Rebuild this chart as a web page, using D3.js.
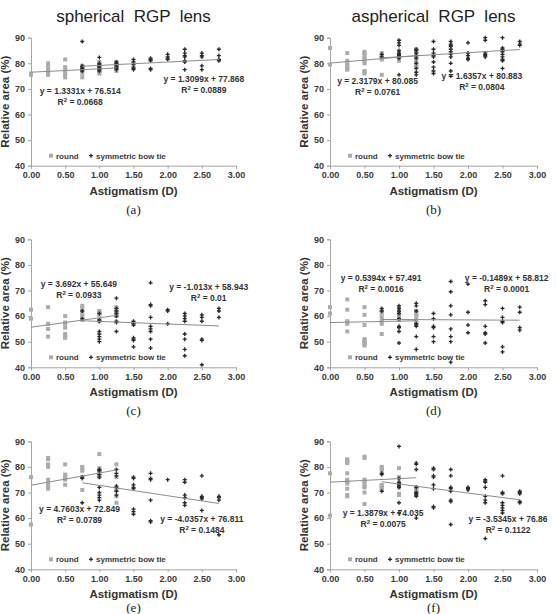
<!DOCTYPE html>
<html>
<head>
<meta charset="utf-8">
<title>Relative area vs astigmatism</title>
<script src="https://d3js.org/d3.v7.min.js"></script>
<style>
  body { margin: 0; background: #fff; }
</style>
</head>
<body>
<script>
// astigmatism levels for each group
const roundX = [0, 0.25, 0.5, 0.75, 1.0, 1.25];
const bowX = [0.75, 1.0, 1.25, 1.5, 1.75, 2.0, 2.25, 2.5, 2.75];

// relative area (%), one list per x level
const roundA = [[75.5, 76], [80, 79, 78, 77, 76, 75.5], [81.5, 78.5, 77.5, 76.5, 75.5, 74.5], [79, 78, 77, 76, 74.5], [80.5, 79.5, 78.5, 78, 77, 76.5, 76], [80.5, 79.5, 79, 78.5, 78, 77]];
const bowA = [[88.5, 79, 78.5, 78, 77.5, 77], [82.3, 80, 79.5, 79, 78.5, 78, 77.5, 77], [80.5, 80, 79, 78.5, 78, 77.5], [81.5, 80.5, 79.5, 78.5, 78, 77.5], [82, 81.5, 81, 78, 77.5], [83.5, 82.5, 82, 81.5], [85.5, 84, 83, 82.5, 81, 80.5, 77.5], [84, 83, 82.5, 79, 77.5], [85.5, 83, 81.5, 81]];

const roundB = [[86, 79.5], [84, 81, 80, 79, 78.5, 78, 77.5], [84.5, 84, 83, 82, 81.5, 81, 80, 77, 76.5, 76], [84, 83, 82.5, 82, 81.5, 75.5], [84, 83, 82, 81], [85.5, 85, 84, 83, 82, 81, 80, 79, 78.5]];
const bowB = [[83.5, 82.5], [89, 88, 87, 85, 84, 83.5, 83, 82.5, 82, 75.5], [85.5, 85, 84, 83, 82, 80, 78, 76.5, 75.5], [88.5, 85.5, 84, 83, 82.5, 80.5, 78.5, 77, 76], [88.5, 87.5, 87, 86.5, 85.5, 84.5, 83.5, 82.5, 80, 77, 75], [88, 84, 83, 82, 81.5], [90, 89, 84, 83.5, 83, 82.5], [90, 86, 85.5, 84.5, 83.5, 82.5, 81.5, 81, 78], [88.5, 87.5, 87]];

const roundC = [[62.5, 59], [63.5, 57, 55, 52], [60, 57.5, 57, 55.5, 53, 52, 51.5], [64, 63, 62, 61, 60, 59, 58.5], [62, 61.5, 61, 60.5, 58.5, 58], [63.5, 62.5, 61.5, 61, 60]];
const bowC = [[62, 59], [61, 58.5, 58, 54, 53, 52, 51, 50], [67, 63, 62, 61, 60, 58, 57.5, 54], [58, 57, 56.5, 51.5, 51, 50.5, 48], [73, 64.5, 64, 59.5, 56, 55, 54, 51, 47.5], [62.5, 62, 57], [61, 60, 59, 58, 53, 51, 47, 44.5], [60.5, 59.5, 58, 51, 50.5, 41], [63, 62, 59.5]];

const roundD = [[63.5, 61], [66.5, 62.5, 58, 57.5, 57, 54], [63.5, 60.5, 56.5, 51, 50.5, 50, 49.5, 49, 48.5], [62, 61, 59.5, 58, 57, 53], [63.5, 62.5, 61.5, 60.5, 60, 59, 58.5], [62, 61.5, 61, 60.5, 59, 58, 57.5]];
const bowD = [[63, 62], [64, 63, 62, 61, 59, 56, 55.5, 54, 49.5], [65, 64, 62, 57, 56.5, 56, 52, 47], [61, 59, 56, 55.5, 52, 50], [73.5, 69.5, 64, 60.5, 55, 52, 50, 42], [72.5, 61.5, 56.5, 53.5], [66, 64.5, 56, 53.5, 53, 49.5], [63, 59.5, 58, 57.5, 48, 46], [63.5, 61.5, 55.5, 54.5]];

const roundE = [[76, 57.5], [83.5, 83, 81, 80.5, 80, 75, 73.5, 72.5, 72, 71.5], [81, 77, 76, 75.5, 75, 73], [80, 79.5, 78.5, 76, 71], [85, 79.5, 78.5, 78, 77.5, 76], [81, 76, 71, 68.5, 66]];
const bowE = [[76, 75.5, 66], [79, 78.5, 77, 76, 72, 70, 69, 68, 67], [79, 77.5, 76.5, 72.5, 72, 70.5, 69], [76, 75.5, 73, 72, 71.5, 63.5, 62.5, 61.5], [77.5, 75.5, 75, 67, 59, 58.5], [75], [75, 74, 69, 68, 66, 65], [76.5, 68.5, 68, 67.5, 63], [68.5, 68, 67, 53.5]];

const roundF = [[77.5, 61], [83, 82.5, 82, 81.5, 77.5, 75, 74.5, 74, 73.5, 71.5, 69, 68.5], [84, 83.5, 75, 74.5, 73.5, 72.5, 72, 70, 65.5], [80, 79.5, 78.5, 73, 72.5, 72, 71.5], [79.5, 76, 75.5, 73, 72, 69.5, 69], [72, 71.5, 71, 70.5, 69.5]];
const bowF = [[77.5, 77, 70.5], [88, 75.5, 74, 73.5, 73, 72.5, 72, 66, 62], [81.5, 81, 79, 72, 70, 69.5, 69, 68.5, 60], [79.5, 79, 76.5, 76, 73, 71.5, 64.5, 64], [79, 76.5, 72, 71.5, 70.5, 67, 66.5, 57.5], [72, 71.5, 71], [75, 74.5, 74, 72, 68.5, 67, 66, 52], [76.5, 70, 69.5, 66, 65, 64, 63, 62], [70.5, 70, 69.5, 66.5, 66]];

// linear trendlines [slope, intercept] and R² as printed
const roundFit = [[1.3331, 76.514], [2.3179, 80.085], [3.692, 55.649], [0.5394, 57.491], [4.7603, 72.849], [1.3879, 74.035]];
const bowFit = [[1.3099, 77.868], [1.6357, 80.883], [-1.013, 58.943], [-0.1489, 58.812], [-4.0357, 76.811], [-3.5345, 76.86]];
const roundR2 = ['0.0668', '0.0761', '0.0933', '0.0016', '0.0789', '0.0075'];
const bowR2 = ['0.0889', '0.0804', '0.01', '0.0001', '0.1484', '0.1122'];

const panelLabels = ['(a)', '(b)', '(c)', '(d)', '(e)', '(f)'];
const columnTitles = ['spherical  RGP  lens', 'aspherical  RGP  lens'];
const xTicks = [0, 0.5, 1, 1.5, 2, 2.5, 3];
const yTicks = [40, 50, 60, 70, 80, 90];
const legendLabels = ['round', 'symmetric bow tie'];

const roundSets = [roundA, roundB, roundC, roundD, roundE, roundF];
const bowSets = [bowA, bowB, bowC, bowD, bowE, bowF];

// layout (pixels), kept apart from the data
const colX = [[31, 236], [330, 537]];
const rowTop = [37.7, 239.3, 441.3];
const plotH = 128;
// equation label centres, in data units of each panel
const eqPos = [
  [[0.72, 69.2], [2.53, 73.7]],
  [[0.69, 73.2], [2.2, 75.0]],
  [[0.70, 72.7], [2.6, 71.4]],
  [[0.74, 74.8], [2.56, 75.0]],
  [[0.71, 63.4], [2.5, 59.5]],
  [[0.77, 61.9], [2.58, 59.5]]
];

const font = 'Liberation Sans, Arial, sans-serif';
const svg = d3.select('body').append('svg')
  .attr('width', 556).attr('height', 614)
  .style('background', '#fff');

function eqText(fit) {
  return 'y = ' + fit[0] + 'x + ' + fit[1];
}

function drawPanel(i) {
  const col = i % 2, row = Math.floor(i / 2);
  const x = d3.scaleLinear().domain([0, 3]).range(colX[col]);
  const y = d3.scaleLinear().domain([40, 90]).range([rowTop[row] + plotH, rowTop[row]]);
  const g = svg.append('g');

  const xAxis = g.append('g')
    .attr('transform', `translate(0,${y(40)})`)
    .call(d3.axisBottom(x).tickValues(xTicks).tickFormat(d3.format('.2f'))
      .tickSizeOuter(0).tickSize(3).tickPadding(3));
  const yAxis = g.append('g')
    .attr('transform', `translate(${x(0)},0)`)
    .call(d3.axisLeft(y).tickValues(yTicks).tickSizeOuter(0).tickSize(3).tickPadding(3));
  [xAxis, yAxis].forEach(a => {
    a.selectAll('path, line').attr('stroke', '#a6a6a6');
    a.selectAll('text').attr('fill', '#3a3a3a')
      .style('font', `bold 9px ${font}`);
  });

  // round: grey squares
  roundSets[i].forEach((vals, j) => {
    g.selectAll(null).data(vals).enter().append('rect')
      .attr('x', x(roundX[j]) - 2).attr('y', d => y(d) - 2)
      .attr('width', 4).attr('height', 4)
      .attr('fill', '#acacac');
  });

  // symmetric bow tie: small dark crosses
  const cross = d3.symbol().type(d3.symbolCross).size(9);
  bowSets[i].forEach((vals, j) => {
    g.selectAll(null).data(vals).enter().append('path')
      .attr('d', cross)
      .attr('transform', d => `translate(${x(bowX[j])},${y(d)})`)
      .attr('fill', '#2a2a2a');
  });

  // trendlines over each group's x range
  const line = d3.line().x(d => x(d[0])).y(d => y(d[1]));
  const rf = roundFit[i], bf = bowFit[i];
  const rx = d3.extent(roundX), bx = d3.extent(bowX);
  g.append('path')
    .attr('d', line(rx.map(v => [v, rf[0] * v + rf[1]])))
    .attr('stroke', '#8c8c8c').attr('stroke-width', 1).attr('fill', 'none');
  g.append('path')
    .attr('d', line(bx.map(v => [v, bf[0] * v + bf[1]])))
    .attr('stroke', '#8c8c8c').attr('stroke-width', 1).attr('fill', 'none');

  // trendline equations
  const eqs = [[eqText(rf), roundR2[i]], [eqText(bf), bowR2[i]]];
  eqs.forEach((e, k) => {
    const p = eqPos[i][k];
    const t = g.append('text')
      .attr('text-anchor', 'middle')
      .attr('fill', '#333')
      .style('font', `bold 8.5px ${font}`);
    t.append('tspan').attr('x', x(p[0])).attr('y', y(p[1]) + 3).text(e[0]);
    const t2 = t.append('tspan').attr('x', x(p[0])).attr('y', y(p[1]) + 14);
    t2.append('tspan').text('R');
    t2.append('tspan').attr('dy', -3).style('font-size', '6px').text('2');
    t2.append('tspan').attr('dy', 3).text(' = ' + e[1]);
  });

  // legend
  const ly = y(40) - 10;
  const lx = x(0);
  g.append('rect').attr('x', lx + 18).attr('y', ly - 2).attr('width', 4).attr('height', 4).attr('fill', '#acacac');
  g.append('text').attr('x', lx + 25).attr('y', ly + 3).attr('fill', '#3a3a3a')
    .style('font', `bold 8px ${font}`).text(legendLabels[0]);
  g.append('path').attr('d', cross).attr('transform', `translate(${lx + 60},${ly})`).attr('fill', '#2a2a2a');
  g.append('text').attr('x', lx + 65).attr('y', ly + 3).attr('fill', '#3a3a3a')
    .style('font', `bold 8px ${font}`).text(legendLabels[1]);

  // axis titles
  g.append('text')
    .attr('x', x(1.5)).attr('y', y(40) + 29)
    .attr('text-anchor', 'middle').attr('fill', '#333')
    .style('font', `bold 11.5px ${font}`)
    .text('Astigmatism (D)');
  g.append('text')
    .attr('transform', `translate(${x(0) - 22},${(y(40) + y(90)) / 2}) rotate(-90)`)
    .attr('text-anchor', 'middle').attr('fill', '#333')
    .style('font', `bold 11.5px ${font}`)
    .text('Relative area (%)');

  // panel letter (the bottom row runs off the page, as in the source)
  g.append('text')
    .attr('x', x(1.5)).attr('y', Math.min(y(40) + 48, 612))
    .attr('text-anchor', 'middle').attr('fill', '#222')
    .style('font', '13px Liberation Serif, Times New Roman, serif')
    .text(panelLabels[i]);

  if (row === 0) {
    g.append('text')
      .attr('x', (colX[col][0] + colX[col][1]) / 2).attr('y', 22)
      .attr('text-anchor', 'middle').attr('fill', '#222')
      .style('font', `17px ${font}`).style('white-space', 'pre')
      .text(columnTitles[col]);
  }
}

d3.range(6).forEach(drawPanel);
</script>
</body>
</html>
